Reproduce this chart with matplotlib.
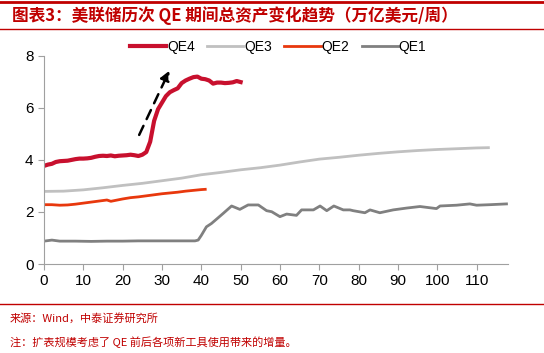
import numpy as np
import matplotlib
matplotlib.use("Agg")
import matplotlib.pyplot as plt
from matplotlib.lines import Line2D

plt.rcParams['font.family'] = ['Liberation Sans', 'Noto Sans CJK SC', 'DejaVu Sans']

# weeks since QE start, total assets (trillion USD)
qe4_x = list(range(0, 51))
qe4_y = [3.77, 3.82, 3.85, 3.92, 3.95, 3.96, 3.97, 4.0, 4.03, 4.05,
         4.05, 4.06, 4.08, 4.12, 4.15, 4.16, 4.15, 4.17, 4.14, 4.16,
         4.17, 4.18, 4.2, 4.18, 4.15, 4.2, 4.3, 4.7, 5.5, 5.95,
         6.2, 6.45, 6.6, 6.68, 6.75, 6.95, 7.05, 7.12, 7.18, 7.2,
         7.12, 7.1, 7.05, 6.93, 6.97, 6.97, 6.95, 6.96, 6.98, 7.03, 6.99]

qe3_x = [0, 5, 10, 15, 20, 25, 30, 35, 40, 45, 50, 55, 60, 65, 70, 75, 80, 85, 90, 95, 100, 105, 110, 113]
qe3_y = [2.79, 2.8, 2.85, 2.93, 3.02, 3.1, 3.2, 3.3, 3.43, 3.52, 3.62, 3.7, 3.8, 3.92, 4.03, 4.1,
         4.18, 4.25, 4.31, 4.36, 4.4, 4.43, 4.46, 4.47]

qe2_x = [0, 2, 4, 6, 8, 10, 12, 14, 15, 16, 17, 18, 20, 22, 24, 26, 28, 30, 32, 34, 36, 38, 40, 41]
qe2_y = [2.28, 2.28, 2.26, 2.27, 2.3, 2.34, 2.38, 2.42, 2.44, 2.46, 2.41, 2.44, 2.5, 2.55, 2.58,
         2.62, 2.66, 2.7, 2.73, 2.76, 2.8, 2.83, 2.86, 2.87]

qe1_x = [0, 2, 4, 8, 12, 16, 20, 24, 28, 32, 36, 38.4, 39.2, 40, 41.3, 42.6, 44.3, 45.6, 47.7,
         49.8, 51.9, 54.5, 56.6, 57.9, 60, 61.7, 64.2, 65.5, 68.5, 70.2, 71.9, 73.7, 76.1, 77.8,
         78.6, 81.6, 82.9, 85.4, 88.8, 92.2, 95.6, 99.8, 100.7, 104.9, 108.3, 110, 113.4, 117.6]
qe1_y = [0.88, 0.92, 0.88, 0.88, 0.87, 0.88, 0.88, 0.89, 0.89, 0.89, 0.89, 0.89, 0.92, 1.1, 1.43,
         1.56, 1.78, 1.95, 2.23, 2.1, 2.27, 2.27, 2.05, 2.01, 1.82, 1.92, 1.87, 2.08, 2.08, 2.23,
         2.05, 2.23, 2.08, 2.08, 2.05, 1.97, 2.08, 1.97, 2.08, 2.15, 2.21, 2.13, 2.23, 2.26, 2.31,
         2.26, 2.28, 2.31]

red = '#C00000'
cjk = ['Noto Sans CJK SC', 'DejaVu Sans']

fig = plt.figure(figsize=(5.44, 3.53), dpi=100)
ax = fig.add_axes([0.0809, 0.252, 0.853, 0.590])

ax.plot(qe1_x, qe1_y, color='#808080', lw=2, label='QE1')
ax.plot(qe2_x, qe2_y, color='#E8380D', lw=2, label='QE2')
ax.plot(qe3_x, qe3_y, color='#C0C0C0', lw=2, label='QE3')
ax.plot(qe4_x, qe4_y, color='#C8102E', lw=3, label='QE4')

ax.annotate('', xy=(31.9, 7.43), xytext=(24.2, 4.96),
            arrowprops=dict(arrowstyle='-|>', color='black', lw=1.8, linestyle=(0, (4, 3)),
                            mutation_scale=14, shrinkA=0, shrinkB=0))

ax.set_xlim(0, 118)
ax.set_ylim(0, 8)
ax.set_xticks(range(0, 111, 10))
ax.set_yticks(range(0, 9, 2))
for s in ['top', 'right']:
    ax.spines[s].set_visible(False)
for s in ['left', 'bottom']:
    ax.spines[s].set_color('#A0A0A0')
ax.tick_params(colors='#A0A0A0', labelcolor='black', labelsize=11, length=4)

h, l = ax.get_legend_handles_labels()
ax.legend(h[::-1], l[::-1], loc='upper left', bbox_to_anchor=(0.18, 1.09), ncol=4,
          frameon=False, fontsize=10, handlelength=2.6, columnspacing=0.9, handletextpad=0.05,
          borderaxespad=0, borderpad=0.2)

# header and footer
fig.add_artist(Line2D([0.0, 1.0], [0.993, 0.993], color=red, lw=2))
fig.add_artist(Line2D([0.0, 1.0], [0.918, 0.918], color=red, lw=1))
fig.text(0.022, 0.955, '图表3：美联储历次 QE 期间总资产变化趋势（万亿美元/周）', color=red,
         fontsize=12, fontweight='bold', style='italic', va='center', family=cjk)
fig.add_artist(Line2D([0.0, 1.0], [0.139, 0.139], color=red, lw=1))
fig.text(0.018, 0.099, '来源：Wind，中泰证券研究所', color=red, fontsize=8, va='center', family=cjk)
fig.text(0.018, 0.031, '注：扩表规模考虑了 QE 前后各项新工具使用带来的增量。', color=red, fontsize=8,
         va='center', family=cjk)

fig.savefig('out.png', dpi=100)
